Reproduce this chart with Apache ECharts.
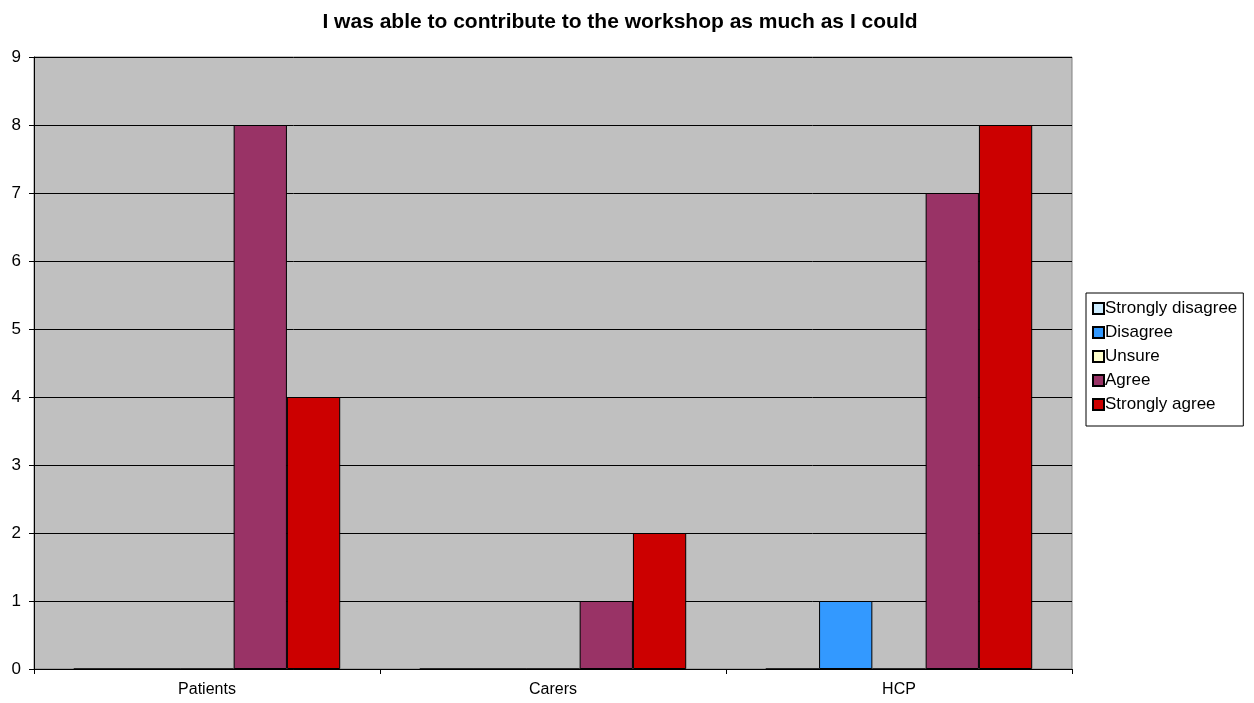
<!DOCTYPE html>
<html>
<head>
<meta charset="utf-8">
<script src="https://cdn.jsdelivr.net/npm/echarts@6/dist/echarts.min.js"></script>
<style>
html, body { margin: 0; padding: 0; background: #fff; }
#main { width: 1254px; height: 703px; }
</style>
</head>
<body>
<div id="main"></div>
<script>
var categories = ['Patients', 'Carers', 'HCP'];
var seriesNames = ['Strongly disagree', 'Disagree', 'Unsure', 'Agree', 'Strongly agree'];
var seriesColors = ['#CCECFF', '#3399FF', '#FFFFCC', '#993366', '#CC0000'];
var stronglyDisagree = [0, 0, 0];
var disagree = [0, 0, 1];
var unsure = [0, 0, 0];
var agree = [8, 1, 7];
var stronglyAgree = [4, 2, 8];
var seriesValues = [stronglyDisagree, disagree, unsure, agree, stronglyAgree];

var myChart = echarts.init(document.getElementById('main'));

var series = [];
for (var i = 0; i < seriesNames.length; i++) {
	series.push({
		name: seriesNames[i],
		type: 'bar',
		data: seriesValues[i],
		barGap: '0%',
		barCategoryGap: '23%',
		itemStyle: {
			color: seriesColors[i],
			borderColor: '#000',
			borderWidth: 1
		}
	});
}

var option = {
	animation: false,
	textStyle: { fontFamily: 'Liberation Sans, Arial, sans-serif' },
	title: {
		text: 'I was able to contribute to the workshop as much as I could',
		left: 615,
		textAlign: 'center',
		top: 7,
		textStyle: { fontSize: 21, fontWeight: 'bold', color: '#000' }
	},
	legend: {
		orient: 'vertical',
		left: 1086,
		top: 293,
		itemWidth: 11,
		itemHeight: 11,
		itemGap: 7,
		padding: [7, 6, 13, 6],
		borderColor: '#000',
		borderWidth: 1,
		icon: 'rect',
		textStyle: { fontSize: 17, color: '#000', padding: [0, 0, 0, -4] },
		data: seriesNames
	},
	grid: {
		left: 34,
		right: 182,
		top: 57,
		bottom: 34,
		show: true,
		backgroundColor: '#C0C0C0',
		borderColor: '#808080',
		borderWidth: 1
	},
	xAxis: {
		type: 'category',
		data: categories,
		axisLine: { lineStyle: { color: '#000' } },
		axisTick: { show: true, length: 5, lineStyle: { color: '#000' } },
		axisLabel: { fontSize: 16, color: '#000', margin: 13 }
	},
	yAxis: {
		type: 'value',
		min: 0,
		max: 9,
		interval: 1,
		axisLine: { show: true, lineStyle: { color: '#000' } },
		axisTick: { show: true, length: 5, lineStyle: { color: '#000' } },
		axisLabel: { fontSize: 17, color: '#000', margin: 13 },
		splitLine: { lineStyle: { color: '#000' } }
	},
	series: series
};
myChart.setOption(option);
</script>
</body>
</html>
